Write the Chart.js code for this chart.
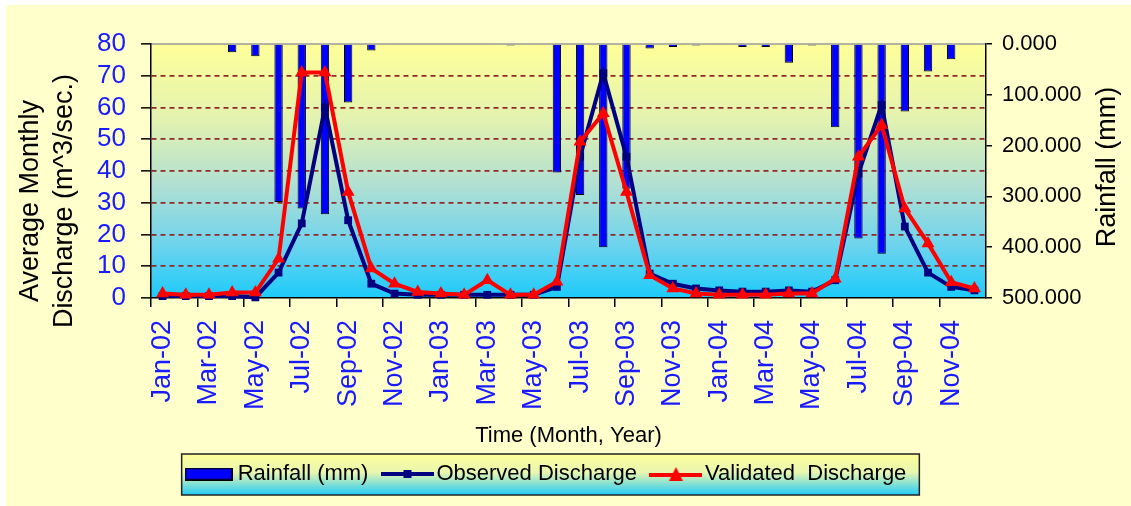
<!DOCTYPE html>
<html>
<head>
<meta charset="utf-8">
<script src="https://cdn.jsdelivr.net/npm/chart.js@4/dist/chart.umd.min.js"></script>
<style>
  html, body { margin: 0; padding: 0; background: #ffffff; }
  #wrap { width: 1131px; height: 506px; }
</style>
</head>
<body>
<div id="wrap"><canvas id="c" width="1131" height="506"></canvas></div>
<script>
const months = ['Jan-02','Feb-02','Mar-02','Apr-02','May-02','Jun-02','Jul-02','Aug-02','Sep-02','Oct-02','Nov-02','Dec-02',
                'Jan-03','Feb-03','Mar-03','Apr-03','May-03','Jun-03','Jul-03','Aug-03','Sep-03','Oct-03','Nov-03','Dec-03',
                'Jan-04','Feb-04','Mar-04','Apr-04','May-04','Jun-04','Jul-04','Aug-04','Sep-04','Oct-04','Nov-04','Dec-04'];
const rainfall = [null,null,null,16,24,311,324,335,115,13,null,null,
                  null,null,null,3,null,253,297,400,285,9,6,3,
                  null,6,6,37,3,164,383,413,133,54,30,null];
const observed = [0.6,0.6,0.6,0.6,0.2,8,23.5,60,24.5,4.5,1.4,1,
                  1,1,1,1,1,3.5,44.5,70.8,44.5,7.7,4.5,3,
                  2.4,2,2,2.4,2,5.6,39.2,60.8,22.5,8,3.5,2.4];
const validated = [1.4,1,1,1.7,1.7,12.4,71,71,33.4,9.3,4.5,1.9,
                   1.4,1,5.6,1,1,5.1,49.2,58.2,33.4,7.2,3,1.4,
                   1,1,1,1.4,1.4,6.1,44.5,54.5,28.2,17.2,5,3];
const seriesNames = ['Rainfall (mm)', 'Observed Discharge', 'Validated  Discharge'];
const leftTitle = ['Average Monthly', 'Discharge (m^3/sec.)'];
const rightTitle = 'Rainfall (mm)';
const xTitle = 'Time (Month, Year)';

const FONT = "'Liberation Sans', Arial, sans-serif";

function mkCanvas(w, h, fn) {
  const c = document.createElement('canvas');
  c.width = w; c.height = h;
  fn(c.getContext('2d'), w, h);
  return c;
}
const barSym = mkCanvas(48, 13, (g, w, h) => {
  g.fillStyle = '#0000FF'; g.fillRect(0, 0, w, h);
  g.strokeStyle = '#000'; g.lineWidth = 1.5; g.strokeRect(0.75, 0.75, w - 1.5, h - 1.5);
});
const obsSym = mkCanvas(53, 14, (g, w, h) => {
  g.strokeStyle = '#000080'; g.lineWidth = 4;
  g.beginPath(); g.moveTo(0, h / 2); g.lineTo(w, h / 2); g.stroke();
  g.fillStyle = '#000080'; g.fillRect(w / 2 - 4, h / 2 - 4, 8, 8);
});
const valSym = mkCanvas(53, 16, (g, w, h) => {
  g.strokeStyle = '#FF0000'; g.lineWidth = 4;
  g.beginPath(); g.moveTo(0, h / 2 + 1); g.lineTo(w, h / 2 + 1); g.stroke();
  g.fillStyle = '#FF0000';
  g.beginPath(); g.moveTo(w / 2, 1); g.lineTo(w / 2 + 7, h - 1); g.lineTo(w / 2 - 7, h - 1); g.closePath(); g.fill();
});
const legendSyms = [barSym, obsSym, valSym];

function vGrad(ctx, top, bottom, stops) {
  const gr = ctx.createLinearGradient(0, top, 0, bottom);
  stops.forEach(s => gr.addColorStop(s[0], s[1]));
  return gr;
}

const decor = {
  id: 'decor',
  afterLayout(chart) {
    const lg = chart.legend;
    if (lg) { lg.left -= 17; lg.right -= 17; }
  },
  beforeDraw(chart) {
    const ctx = chart.ctx;
    const a = chart.chartArea;
    ctx.save();
    ctx.fillStyle = '#ffffff';
    ctx.fillRect(0, 0, chart.width, chart.height);
    ctx.fillStyle = '#FFFFCC';
    ctx.fillRect(6, 5, chart.width - 6, chart.height - 5);
    ctx.fillStyle = vGrad(ctx, a.top, a.bottom, [[0, '#FFFF99'], [0.3, '#E2F2B0'], [0.55, '#B2E0D2'], [0.8, '#6BD3EE'], [1, '#1CCBFA']]);
    ctx.fillRect(a.left, a.top, a.right - a.left, a.bottom - a.top);
    ctx.strokeStyle = '#9a9a9a'; ctx.lineWidth = 1.5;
    ctx.beginPath(); ctx.moveTo(a.left, a.top); ctx.lineTo(a.right, a.top); ctx.stroke();
    const lg = chart.legend;
    if (lg && lg.legendHitBoxes && lg.legendHitBoxes.length) {
      const hb = lg.legendHitBoxes;
      let l = Infinity, r = -Infinity;
      hb.forEach(b => { l = Math.min(l, b.left); r = Math.max(r, b.left + b.width); });
      const cy = hb[0].top + hb[0].height / 2;
      const bl = l - 9, br = r + 13, bt = cy - 20, bb = cy + 21;
      ctx.fillStyle = vGrad(ctx, bt, bb, [[0, '#FFFF99'], [0.45, '#E8F6B0'], [1, '#22CCF8']]);
      ctx.fillRect(bl, bt, br - bl, bb - bt);
      ctx.strokeStyle = '#222'; ctx.lineWidth = 1.5;
      ctx.strokeRect(bl, bt, br - bl, bb - bt);
    }
    ctx.restore();
  },
  afterDraw(chart) {
    const s = chart.scales.y1;
    const ctx = chart.ctx;
    ctx.save();
    ctx.translate(s.right - 23, (s.top + s.bottom) / 2 - 4);
    ctx.rotate(-Math.PI / 2);
    ctx.font = '27px ' + FONT;
    ctx.fillStyle = '#000000';
    ctx.textAlign = 'center';
    ctx.textBaseline = 'middle';
    ctx.fillText(rightTitle, 0, 0);
    ctx.restore();
  }
};

new Chart(document.getElementById('c'), {
  type: 'bar',
  data: {
    labels: months,
    datasets: [
      {
        type: 'bar', label: seriesNames[0], data: rainfall, yAxisID: 'y1', order: 2,
        backgroundColor: '#0000FF', borderColor: '#000000', borderWidth: 1,
        barPercentage: 0.36, categoryPercentage: 1.0
      },
      {
        type: 'line', label: seriesNames[1], data: observed, yAxisID: 'y', order: 1,
        borderColor: '#000080', backgroundColor: '#000080', borderWidth: 4, tension: 0,
        pointStyle: 'rect', pointRadius: 5.5, pointBackgroundColor: '#000080', pointBorderColor: '#000080', pointBorderWidth: 0,
        clip: false
      },
      {
        type: 'line', label: seriesNames[2], data: validated, yAxisID: 'y', order: 0,
        borderColor: '#FF0000', backgroundColor: '#FF0000', borderWidth: 4, tension: 0,
        pointStyle: 'triangle', pointRadius: 7.5, pointBackgroundColor: '#FF0000', pointBorderColor: '#FF0000', pointBorderWidth: 0,
        clip: false
      }
    ]
  },
  options: {
    responsive: false,
    animation: false,
    devicePixelRatio: 1,
    layout: { padding: { left: 0, right: 0, top: 44, bottom: 11 } },
    plugins: {
      tooltip: { enabled: false },
      legend: {
        position: 'bottom',
        labels: {
          usePointStyle: true,
          pointStyleWidth: 36,
          padding: 21,
          color: '#000000',
          font: { family: FONT, size: 22 },
          sort: (a, b) => a.datasetIndex - b.datasetIndex,
          generateLabels(chart) {
            const items = Chart.defaults.plugins.legend.labels.generateLabels(chart);
            items.forEach(it => { it.pointStyle = legendSyms[it.datasetIndex]; it.lineWidth = 0; });
            return items;
          }
        }
      }
    },
    scales: {
      x: {
        type: 'category',
        offset: true,
        afterFit(s) { s.height = 144; },
        grid: {
          offset: true,
          drawOnChartArea: false,
          drawTicks: true,
          tickLength: 9,
          lineWidth: 1.5,
          color: (c) => (c.index % 2 === 0 ? '#000000' : 'rgba(0,0,0,0)')
        },
        border: { display: true, color: '#000000', width: 1.5 },
        ticks: {
          autoSkip: false, maxRotation: 90, minRotation: 90, padding: 13,
          color: '#1a1aff',
          font: { family: FONT, size: 27 },
          callback(v, i) { return i % 2 === 0 ? months[i] : ''; }
        },
        title: {
          display: true, text: xTitle, color: '#000000',
          font: { family: FONT, size: 22 },
          padding: { top: 0, bottom: -7 }
        }
      },
      y: {
        position: 'left',
        min: 0, max: 80,
        afterFit(s) { s.width = 151; },
        ticks: {
          stepSize: 10, autoSkip: false, padding: 15, color: '#1a1aff',
          font: { family: FONT, size: 26, lineHeight: 1 }
        },
        grid: {
          drawOnChartArea: true, drawTicks: true, tickLength: 10,
          lineWidth: 1.7,
          color: (c) => ((c.tick && (c.tick.value === 0 || c.tick.value === 80)) ? 'rgba(0,0,0,0)' : '#8f2a2a'),
          tickColor: '#000000', tickWidth: 1.5, tickBorderDash: []
        },
        border: { display: true, color: '#000000', width: 1.5, dash: [5, 4] },
        title: {
          display: true,
          text: leftTitle.map(t => t + '        '),
          color: '#000000',
          font: { family: FONT, size: 27, lineHeight: 1.26 },
          padding: { top: 14, bottom: 0 }
        }
      },
      y1: {
        position: 'right',
        min: 0, max: 500, reverse: true,
        afterFit(s) { s.width = 145; },
        ticks: {
          stepSize: 100, autoSkip: false, padding: 10, color: '#000000',
          font: { family: FONT, size: 22 },
          callback(v) { return Number(v).toFixed(3); }
        },
        grid: { drawOnChartArea: false, drawTicks: true, tickLength: 6, color: '#000000', lineWidth: 1.5 },
        border: { display: true, color: '#000000', width: 1.5 },
        title: { display: false }
      }
    }
  },
  plugins: [decor]
});
</script>
</body>
</html>
